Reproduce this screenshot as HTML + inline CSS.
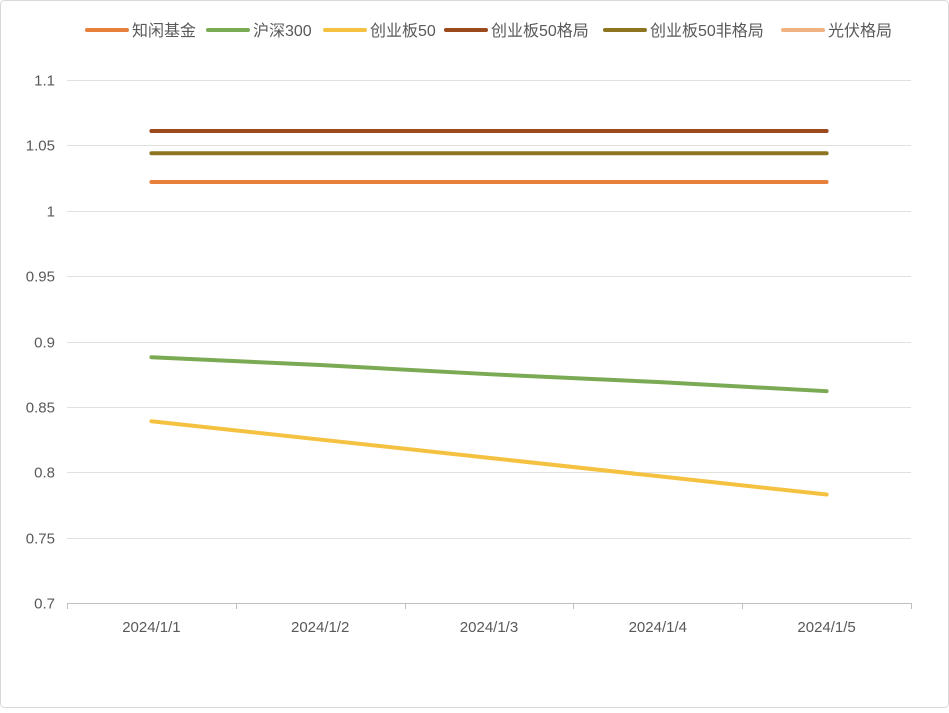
<!DOCTYPE html>
<html><head><meta charset="utf-8"><style>
body{margin:0;background:#fff;}
svg text{font-family:"Liberation Sans","Noto Sans CJK SC",sans-serif;}
</style></head><body>
<svg width="949" height="708" xmlns="http://www.w3.org/2000/svg">
<rect x="0.5" y="0.5" width="948" height="707" rx="4" fill="#fff" stroke="#d9d9d9"/>
<g id="grid"></g><g id="axis"></g><g id="series"></g><g id="legend"></g>
</svg>
<script>
const categories=["2024/1/1","2024/1/2","2024/1/3","2024/1/4","2024/1/5"];
const yTicks=[0.7,0.75,0.8,0.85,0.9,0.95,1,1.05,1.1];
const yTickLabels=["0.7","0.75","0.8","0.85","0.9","0.95","1","1.05","1.1"];
const seriesNames=["知闲基金","沪深300","创业板50","创业板50格局","创业板50非格局","光伏格局"];
const seriesColors=["#E8803D","#7BAA55","#F4C141","#9B4A1E","#8C7421","#EFB383"];
const s0=[1.022,1.022,1.022,1.022,1.022];
const s1=[0.888,0.882,0.875,0.869,0.862];
const s2=[0.839,0.825,0.811,0.797,0.783];
const s3=[1.061,1.061,1.061,1.061,1.061];
const s4=[1.044,1.044,1.044,1.044,1.044];
const s5=[null,null,null,null,null];
const seriesValues=[s0,s1,s2,s3,s4,s5];
const NS="http://www.w3.org/2000/svg";
const L=67,R=911,T=80,B=603,yMin=0.7,yMax=1.1;
const band=(R-L)/categories.length;
function xPos(i){return L+band*(i+0.5);}
function yPos(v){return B-(v-yMin)/(yMax-yMin)*(B-T);}
function mk(tag,attrs,parent){const e=document.createElementNS(NS,tag);for(const k in attrs)e.setAttribute(k,attrs[k]);parent.appendChild(e);return e;}
const grid=document.getElementById('grid'),axis=document.getElementById('axis'),ser=document.getElementById('series'),leg=document.getElementById('legend');
yTicks.forEach((v,i)=>{
 const y=Math.round(yPos(v))+0.5;
 const l=mk('line',{x1:L,x2:R,y1:y,y2:y,stroke:i==0?'#bfbfbf':'#e0e0e0','stroke-width':1},grid);
 
 
 const t=mk('text',{x:55,y:y+5,'text-anchor':'end','font-size':15,fill:'#595959'},axis);
 t.textContent=yTickLabels[i];
 
 
});
for(let i=0;i<=categories.length;i++){
 const x=Math.round(L+band*i)+0.5;
 const l=mk('line',{x1:x,x2:x,y1:B,y2:B+6,stroke:'#bfbfbf'},axis);
 
 
}
categories.forEach((c,i)=>{
 const t=mk('text',{x:xPos(i),y:632,'text-anchor':'middle','font-size':15,fill:'#595959'},axis);
 t.textContent=c;
 
 
});
seriesValues.forEach((vals,si)=>{
 const pts=[];vals.forEach((v,i)=>{if(v!==null)pts.push(xPos(i)+','+yPos(v));});
 if(pts.length<2)return;
 const p=mk('polyline',{points:pts.join(' '),fill:'none',stroke:seriesColors[si],'stroke-width':4,'stroke-linecap':'round','stroke-linejoin':'round'},ser);
 
 
});
const legX=[87,208,325,446,605,783];
seriesNames.forEach((n,i)=>{
 const g=mk('g',{},leg);
 
 
 mk('line',{x1:legX[i],x2:legX[i]+40,y1:30,y2:30,stroke:seriesColors[i],'stroke-width':4,'stroke-linecap':'round'},g);
 const t=mk('text',{x:legX[i]+45,y:36,'font-size':16,fill:'#595959'},g);
 t.textContent=n;
});
</script>
</body></html>
